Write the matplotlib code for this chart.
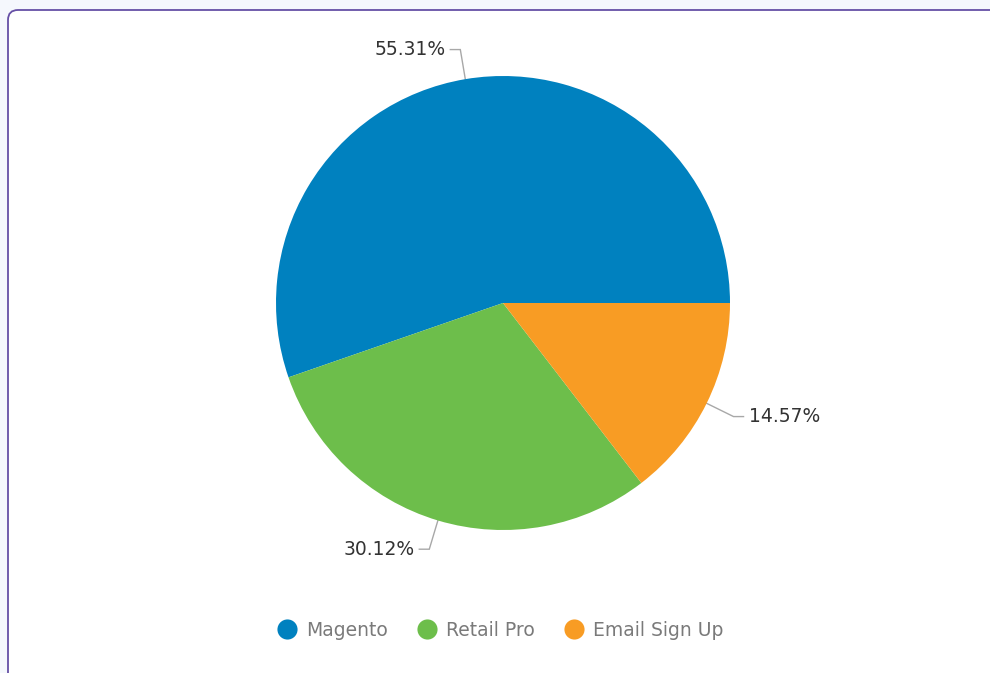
import numpy as np
import matplotlib.pyplot as plt
from matplotlib.patches import FancyBboxPatch
from matplotlib.lines import Line2D

labels = ['Magento', 'Retail Pro', 'Email Sign Up']
shares = [55.31, 30.12, 14.57]
colors = ['#0081BF', '#6DBE4B', '#F89C24']

plt.rcParams['font.family'] = ['DejaVu Sans']

W, H = 990, 673
fig = plt.figure(figsize=(W / 100, H / 100), dpi=100, facecolor='#F5F8FD')

ax = fig.add_axes([0, 0, 1, 1])
ax.patch.set_alpha(0)

# card with rounded corner, running off the right and bottom edges
card = FancyBboxPatch((8, -20), 1100, H - 10 + 20, boxstyle='round,pad=0,rounding_size=10',
                      facecolor='white', edgecolor='#6650A6', linewidth=1.3, zorder=0)
ax.add_patch(card)

cx, cy, r = 503, H - 303, 227
wedges, _ = ax.pie(shares, colors=colors, startangle=0, counterclock=True,
                   center=(cx, cy), radius=r, wedgeprops=dict(linewidth=0, zorder=2))
ax.set_xlim(0, W)
ax.set_ylim(0, H)
ax.set_aspect('auto')
ax.axis('off')

# leader lines and percentage labels
for w, val in zip(wedges, shares):
    ang = np.deg2rad((w.theta1 + w.theta2) / 2)
    x0, y0 = cx + r * np.cos(ang), cy + r * np.sin(ang)
    x1, y1 = cx + (r + 30) * np.cos(ang), cy + (r + 30) * np.sin(ang)
    side = 1 if np.cos(ang) > 0 else -1
    x2 = x1 + side * 10
    ax.plot([x0, x1, x2], [y0, y1, y1], color='#A8A8A8', lw=1, solid_joinstyle='miter', zorder=1)
    ax.text(x2 + side * 5, y1, f'{val:.2f}%', ha='left' if side > 0 else 'right',
            va='center', fontsize=13.5, color='#333333', zorder=3)

handles = [Line2D([], [], marker='o', ls='none', markersize=14.5, markerfacecolor=c,
                  markeredgewidth=0) for c in colors]
leg = ax.legend(handles, labels, loc='center', bbox_to_anchor=(500, H - 630),
                bbox_transform=ax.transData, ncol=3, frameon=False, fontsize=13.5,
                handletextpad=0.45, columnspacing=1.55, handlelength=1.1)
for t in leg.get_texts():
    t.set_color('#7A7A7A')

fig.savefig('out.png', dpi=100, facecolor=fig.get_facecolor())
